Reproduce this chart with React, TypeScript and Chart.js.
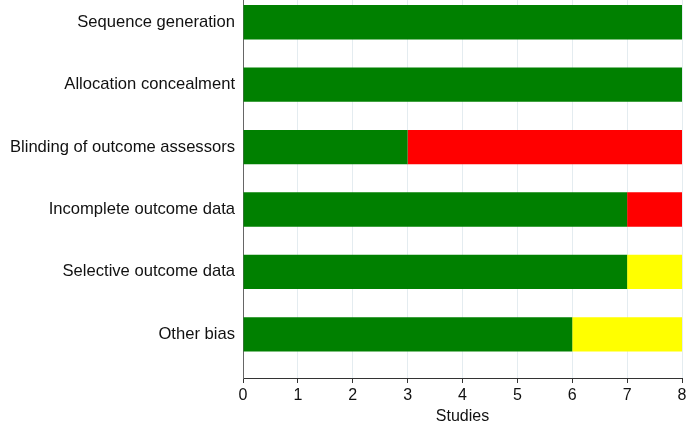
import React, { useEffect, useRef } from "react";
import { Chart, registerables } from "chart.js";

Chart.register(...registerables);

const categories = [
  "Sequence generation",
  "Allocation concealment",
  "Blinding of outcome assessors",
  "Incomplete outcome data",
  "Selective outcome data",
  "Other bias",
];
const lowRisk = [8, 8, 3, 7, 7, 6];
const highRisk = [0, 0, 5, 1, 0, 0];
const unclearRisk = [0, 0, 0, 0, 1, 2];
const xTicks = [0, 1, 2, 3, 4, 5, 6, 7, 8];
const xTitle = "Studies";

const toPoints = (vals: number[]) => vals.map((v, i) => ({ x: v, y: i }));

export default function App() {
  const ref = useRef<HTMLCanvasElement | null>(null);
  useEffect(() => {
    if (!ref.current) return;
    document.body.style.margin = "0";
    const font = "'Liberation Sans', Arial, sans-serif";
    const chart = new Chart(ref.current, {
      type: "bar",
      data: {
        datasets: [
          { label: "Low", data: toPoints(lowRisk), backgroundColor: "#008000" },
          { label: "High", data: toPoints(highRisk), backgroundColor: "#ff0000" },
          { label: "Unclear", data: toPoints(unclearRisk), backgroundColor: "#ffff00" },
        ],
      },
      options: {
        indexAxis: "y",
        animation: false,
        responsive: false,
        maintainAspectRatio: false,
        layout: { padding: { left: 0, right: 12, top: 0, bottom: 0 } },
        datasets: { bar: { categoryPercentage: 1, barPercentage: 0.55 } },
        plugins: { legend: { display: false }, tooltip: { enabled: false } },
        scales: {
          x: {
            type: "linear",
            stacked: true,
            min: 0,
            max: 8,
            afterBuildTicks: (axis: any) => {
              axis.ticks = xTicks.map((v) => ({ value: v }));
            },
            afterFit: (axis: any) => {
              axis.paddingLeft = 0;
              axis.paddingRight = 12;
            },
            grid: {
              color: "#e4ecf0",
              lineWidth: 1,
              tickColor: "#333333",
              tickLength: 5,
            },
            border: { display: true, color: "#333333", width: 1 },
            ticks: {
              color: "#111111",
              padding: 10,
              font: { family: font, size: 16, lineHeight: 0.375 },
              maxRotation: 0,
            },
            title: {
              display: true,
              text: xTitle,
              color: "#111111",
              font: { family: font, size: 16, lineHeight: 1 },
              padding: { top: 0, bottom: 7 },
            },
          },
          y: {
            type: "linear",
            stacked: true,
            reverse: true,
            offset: false,
            min: -0.5,
            max: 5.7,
            afterBuildTicks: (axis: any) => {
              axis.ticks = categories.map((_, i) => ({ value: i }));
            },
            grid: { display: false, drawTicks: false },
            border: { display: true, color: "#666666", width: 1 },
            ticks: {
              color: "#111111",
              padding: 8,
              font: { family: font, size: 16.6 },
              callback: (v: any) => categories[Number(v)] ?? "",
            },
            afterFit: (axis: any) => {
              axis.width = 243;
              axis.paddingTop = 0;
              axis.paddingBottom = 0;
            },
          },
        },
      },
    });
    return () => chart.destroy();
  }, []);
  return (
    <div style={{ position: "fixed", left: 0, top: -9, width: 694, height: 441 }}>
      <canvas ref={ref} width={694} height={441} style={{ width: 694, height: 441 }} />
    </div>
  );
}
